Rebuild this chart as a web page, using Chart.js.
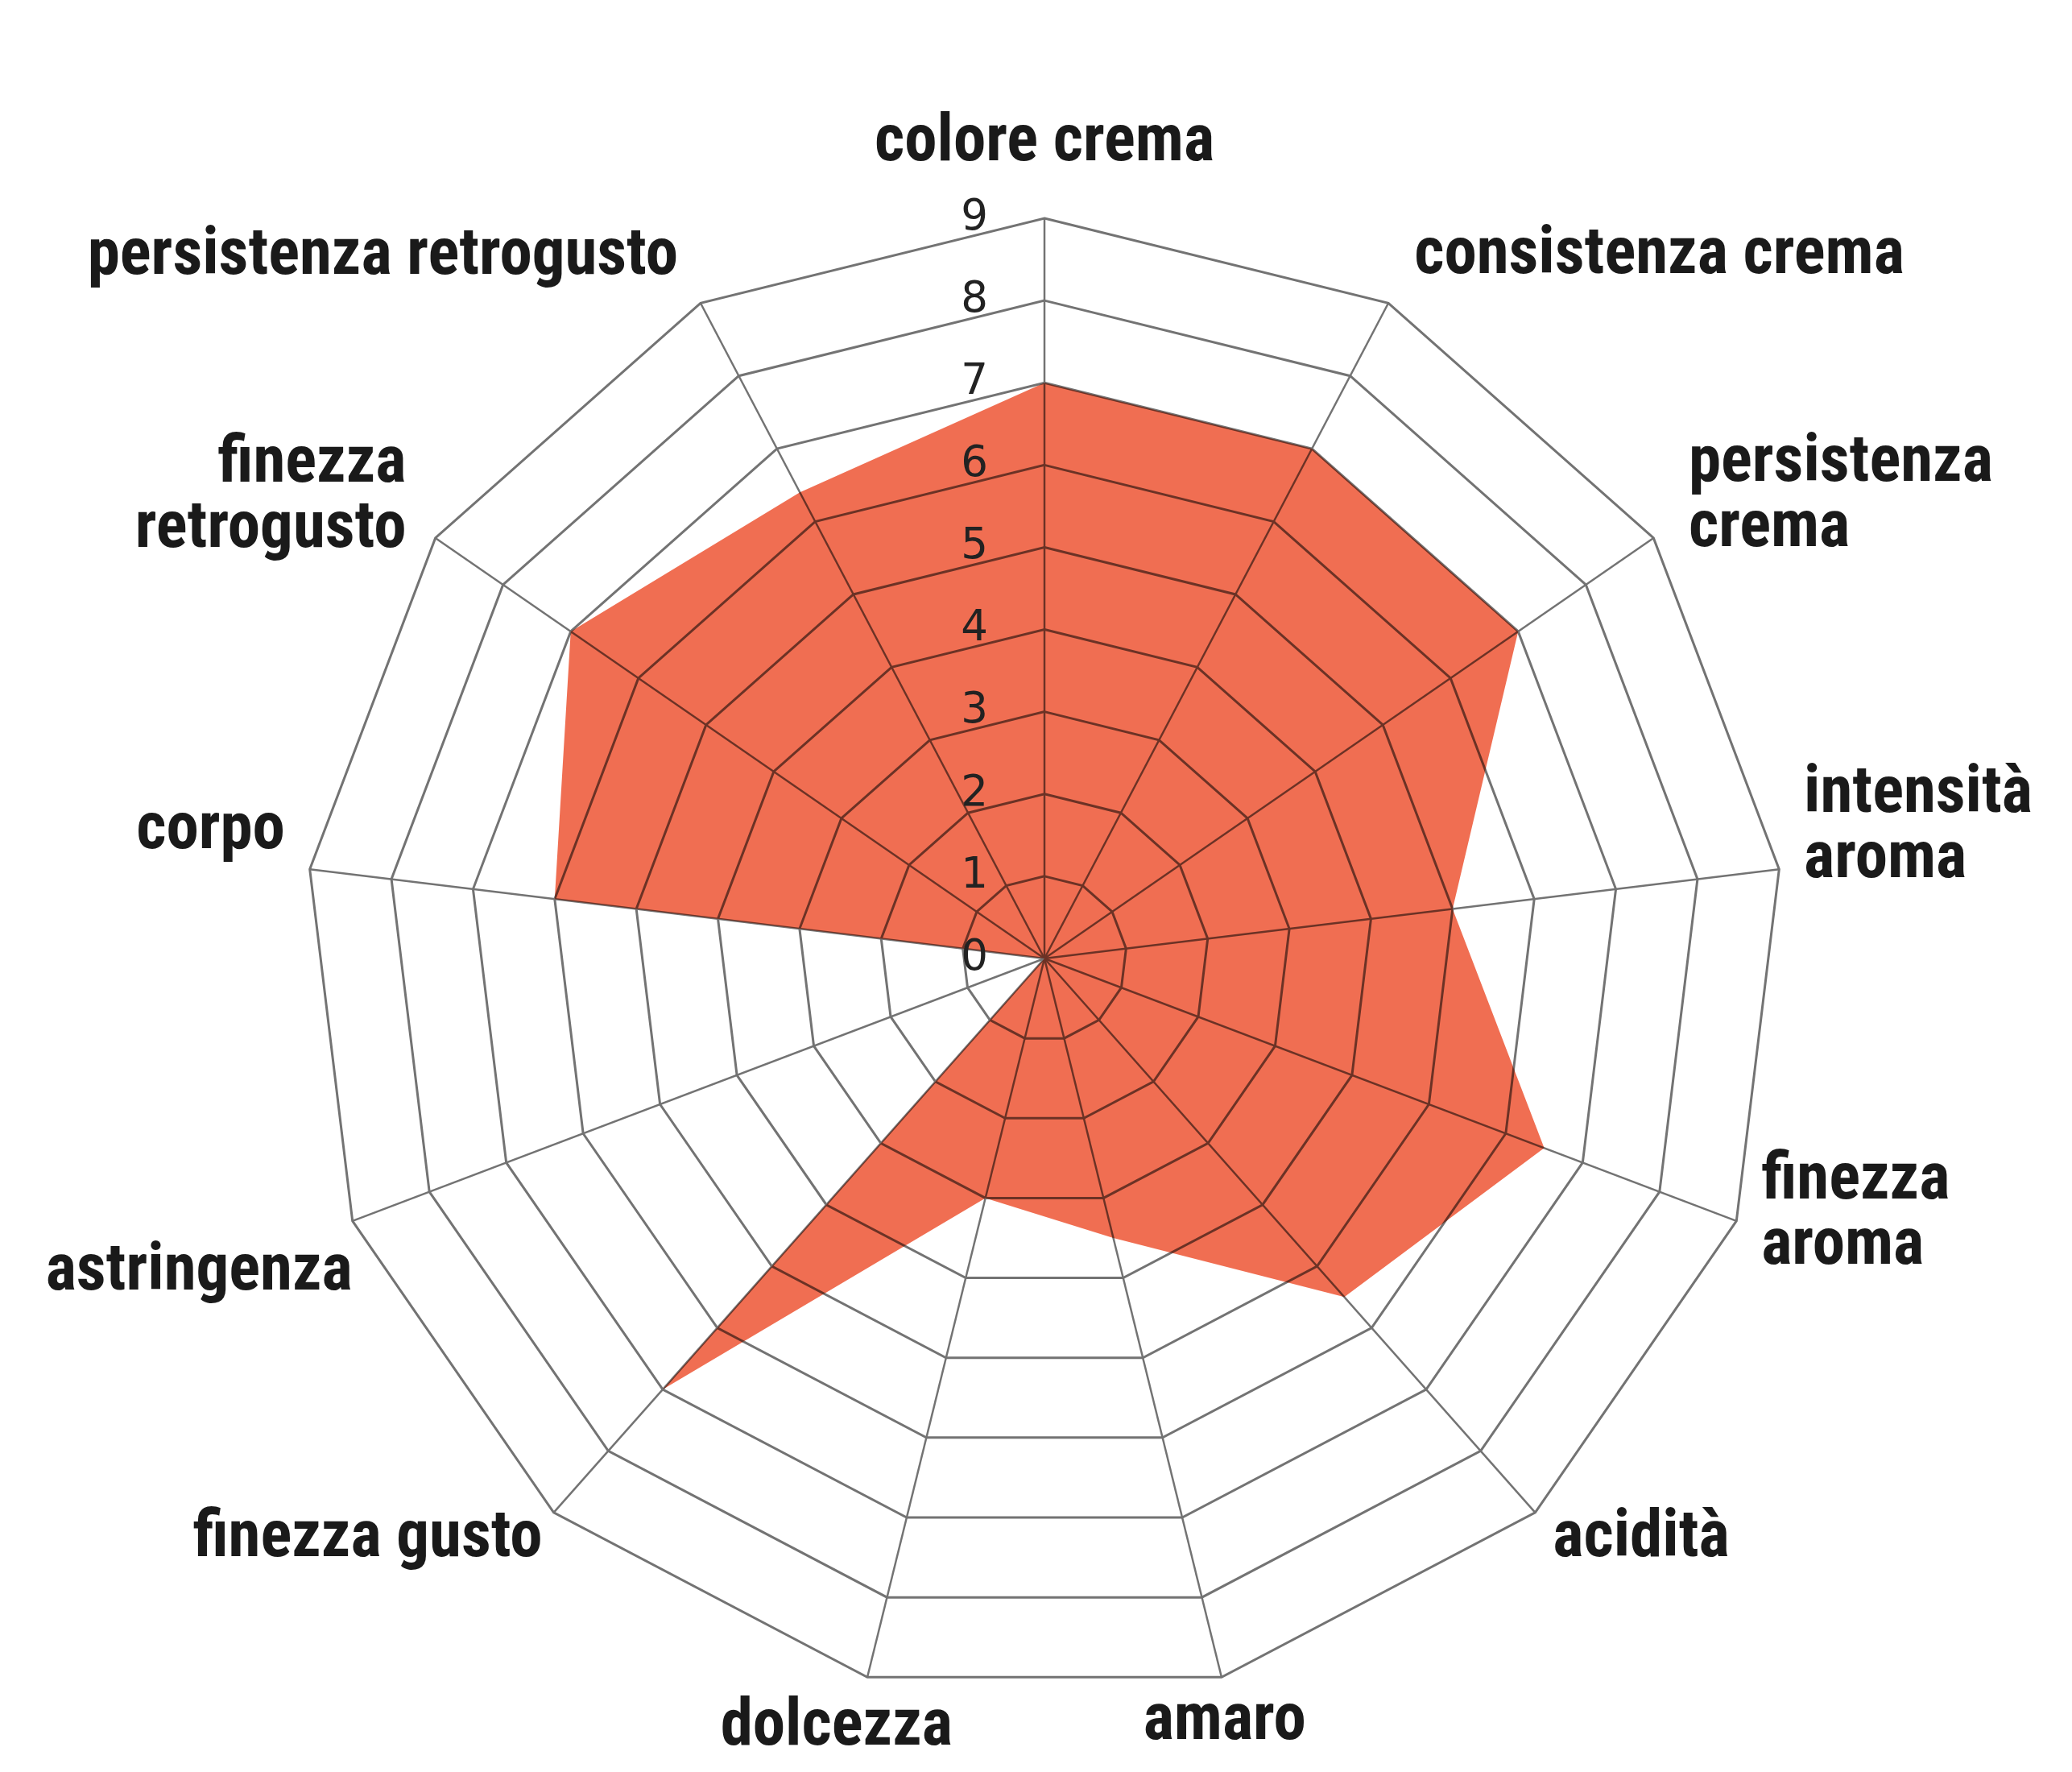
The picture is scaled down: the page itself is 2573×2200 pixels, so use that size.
<!DOCTYPE html>
<html>
<head>
<meta charset="utf-8">
<script src="https://cdn.jsdelivr.net/npm/chart.js@4.4.1/dist/chart.umd.min.js"></script>
<style>
  html, body { margin: 0; padding: 0; background: #fff; overflow: hidden; }
  #wrap { width: 2573px; height: 2200px; position: relative; }
</style>
</head>
<body>
<div id="wrap"><canvas id="chart"></canvas></div>
<script>
// assi del profilo sensoriale (in senso orario dall'alto)
const categories = [
  'colore crema',
  'consistenza crema',
  ['persistenza', 'crema'],
  ['intensità', 'aroma'],
  ['finezza', 'aroma'],
  'acidità',
  'amaro',
  'dolcezza',
  'finezza gusto',
  'astringenza',
  'corpo',
  ['finezza', 'retrogusto'],
  'persistenza retrogusto'
];
const scores = [7, 7, 7, 5, 6.5, 5.5, 3.5, 3, 7, 0, 6, 7, 6.4];
const tickValues = [0, 1, 2, 3, 4, 5, 6, 7, 8, 9];
const tickLabels = ['0', '1', '2', '3', '4', '5', '6', '7', '8', '9'];

// axis names: gap from the outer ring and how much of the text box sits above that point
const labelGap = [52, 69, 53, 31, 33, 33, 16, 160, 21, 0, 31, 44, 60];
const labelAnchor = [1, 0.45, 0.63, 0.79, 0.62, 0.39, 0, 1.63, 0.27, -0.3, 1.03, 0.65, 0.54];
const labelFont = 'bold 81px "Roboto Condensed"';
const labelLine = 81;

// white paper so the multiply blend works
const paperWhite = {
  id: 'paperWhite',
  beforeDraw(chart) {
    const { ctx, width, height } = chart;
    ctx.save();
    ctx.fillStyle = '#ffffff';
    ctx.fillRect(0, 0, width, height);
    ctx.restore();
  }
};

// fill multiplied over the web, so grid lines show dark through it
const multiplyFill = {
  id: 'multiplyFill',
  beforeDatasetsDraw(chart) {
    chart.ctx.save();
    chart.ctx.globalCompositeOperation = 'multiply';
  },
  afterDatasetsDraw(chart) {
    chart.ctx.restore();
  }
};

// scale numbers a bit left of the vertical axis
const sideTicks = {
  id: 'sideTicks',
  afterDatasetsDraw(chart) {
    const r = chart.scales.r;
    const ctx = chart.ctx;
    ctx.save();
    ctx.font = '53px "DejaVu Sans"';
    ctx.fillStyle = '#222';
    ctx.textAlign = 'center';
    ctx.textBaseline = 'middle';
    tickValues.forEach((v, i) => {
      ctx.fillText(tickLabels[i], r.xCenter - 87, r.yCenter - r.getDistanceFromCenterForValue(v));
    });
    ctx.restore();
  }
};

// axis names placed off the ends of the spokes
const axisNames = {
  id: 'axisNames',
  afterDatasetsDraw(chart) {
    const r = chart.scales.r;
    const ctx = chart.ctx;
    ctx.save();
    ctx.font = labelFont;
    ctx.fillStyle = '#1a1a1a';
    ctx.textBaseline = 'middle';
    categories.forEach((name, i) => {
      const lines = Array.isArray(name) ? name : [name];
      const pos = r.getPointPosition(i, r.drawingArea + labelGap[i]);
      const s = Math.sin(r.getIndexAngle(i));
      ctx.textAlign = Math.abs(s) < 0.3 ? 'center' : (s > 0 ? 'left' : 'right');
      const top = pos.y - lines.length * labelLine * labelAnchor[i];
      lines.forEach((line, k) => {
        ctx.fillText(line, pos.x, top + labelLine * (k + 0.5));
      });
    });
    ctx.restore();
  }
};

const ctx = document.getElementById('chart').getContext('2d');
new Chart(ctx, {
  type: 'radar',
  data: {
    labels: categories,
    datasets: [{
      data: scores,
      backgroundColor: 'rgb(240, 110, 82)',
      borderWidth: 0,
      pointRadius: 0,
      fill: true
    }]
  },
  options: {
    responsive: true,
    maintainAspectRatio: false,
    animation: false,
    layout: { padding: { top: 271, bottom: 91, left: 378, right: 357 } },
    plugins: {
      legend: { display: false },
      tooltip: { enabled: false }
    },
    scales: {
      r: {
        min: 0,
        max: 9,
        ticks: { stepSize: 1, display: false },
        grid: { color: '#737373', lineWidth: 3, circular: false },
        angleLines: { color: '#737373', lineWidth: 2.5 },
        pointLabels: { display: false }
      }
    }
  },
  plugins: [paperWhite, multiplyFill, sideTicks, axisNames]
});
</script>
</body>
</html>
